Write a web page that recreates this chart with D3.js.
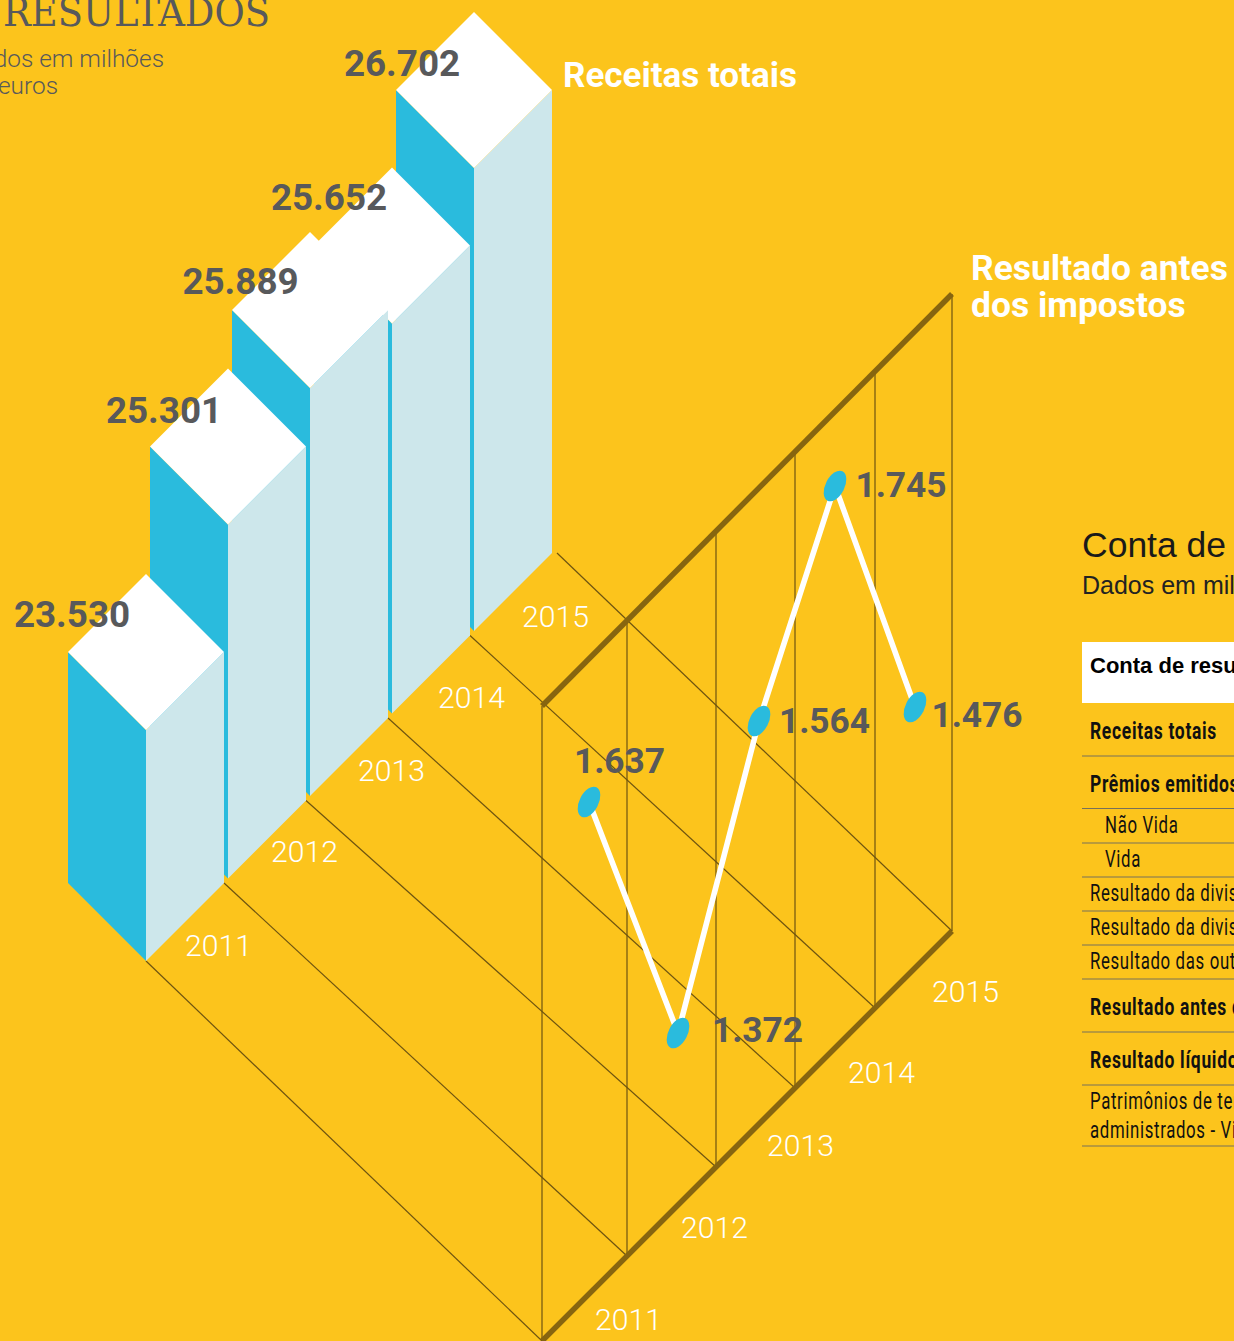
<!DOCTYPE html>
<html>
<head>
<meta charset="utf-8">
<script src="https://cdn.jsdelivr.net/npm/d3@7"></script>
<style>
	html, body { margin: 0; padding: 0; background: #fcc41c; overflow: hidden; }
	svg { display: block; }
</style>
</head>
<body>
<div id="chart"></div>
<script>
// data
const years = [2011, 2012, 2013, 2014, 2015];
const receitas = [23530, 25301, 25889, 25652, 26702];
const resultado = [1637, 1372, 1564, 1745, 1476];
const tableRowLabels = ["Receitas totais", "Prêmios emitidos", "Não Vida", "Vida",
	"Resultado da divisão Não Vida", "Resultado da divisão Vida", "Resultado das outras áreas",
	"Resultado antes de impostos", "Resultado líquido", "Patrimônios de terceiros", "administrados - Vida"];

const width = 1234, height = 1341;
const ptFormat = d3.format(",");
const fmt = v => ptFormat(v).replace(/,/g, ".");

const gray = "#58595b";
const blue = "#2abbdd";
const pale = "#cde7eb";
const rule = "#6e5410";

let svg = d3.select("#chart").append("svg")
	.attr("width", width)
	.attr("height", height);

// bars: position of the front bottom corner per year
const barX = d3.scalePoint().domain(years).range([146, 474]);
const barY = d3.scalePoint().domain(years).range([961, 631]);
const half = 78; // half width of the diamond

// the drawing isn't strictly linear, so the scales go through several stops
const barHeight = d3.scaleLinear()
	.domain(d3.sort(receitas))
	.range([231, 354, 390, 408, 463]);

// panel on the right: column edges along the tilted axes
const colEdge = d3.scaleLinear().domain([0, 1, 2, 3, 4, 5]).range([542, 627, 716, 795, 875, 952]);
const lowerAxis = x => 1341 - (x - 542);
const upperAxis = x => 706 - (x - 542) * 412 / 410;

// diagonal floor lines, drawn first so the bars sit on top
const diagonals = d3.range(6).map(i => {
	const start = i === 0
		? [barX(years[0]), barY(years[0])]
		: [barX(years[i - 1]) + half + (i === 5 ? 5 : 0), barY(years[i - 1]) - half];
	return {start: start, end: [colEdge(i), lowerAxis(colEdge(i))]};
});

svg.append("g").selectAll("line")
	.data(diagonals)
	.enter().append("line")
	.attr("x1", d => d.start[0])
	.attr("y1", d => d.start[1])
	.attr("x2", d => d.end[0])
	.attr("y2", d => d.end[1])
	.attr("stroke", rule)
	.attr("stroke-width", 1.2);

// vertical lines
svg.append("g").selectAll("line")
	.data(d3.range(6))
	.enter().append("line")
	.attr("x1", i => colEdge(i))
	.attr("x2", i => colEdge(i))
	.attr("y1", i => upperAxis(colEdge(i)))
	.attr("y2", i => lowerAxis(colEdge(i)))
	.attr("stroke", rule)
	.attr("stroke-width", 1.2);

// thick axes
[upperAxis, lowerAxis].forEach(axis => {
	svg.append("line")
		.attr("x1", colEdge(0))
		.attr("y1", axis(colEdge(0)))
		.attr("x2", colEdge(5))
		.attr("y2", axis(colEdge(5)))
		.attr("stroke", "#87650f")
		.attr("stroke-width", 5.5);
});

// bars, from the back to the front
const bars = years.map((y, i) => {
	const h = barHeight(receitas[i]);
	return {year: y, value: receitas[i], x: barX(y), bottom: barY(y), top: barY(y) - h};
});

const poly = pts => pts.map(p => p.join(",")).join(" ");

const barGroups = svg.append("g").selectAll("g")
	.data(bars.slice().reverse())
	.enter().append("g");

barGroups.append("polygon")
	.attr("fill", blue)
	.attr("points", d => poly([[d.x - half, d.top - half], [d.x, d.top], [d.x, d.bottom], [d.x - half, d.bottom - half]]));

barGroups.append("polygon")
	.attr("fill", pale)
	.attr("points", d => poly([[d.x, d.top], [d.x + half, d.top - half], [d.x + half, d.bottom - half], [d.x, d.bottom]]));

barGroups.append("polygon")
	.attr("fill", "white")
	.attr("points", d => poly([[d.x, d.top], [d.x - half, d.top - half], [d.x, d.top - 2 * half], [d.x + half, d.top - half]]));

// line chart, the points sit in the columns a bit right of the middle
const pointShift = [4.5, 6.5, 3.5, 0, 1.5];
const lineHeight = d3.scaleLinear()
	.domain(d3.sort(resultado))
	.range([172, 261, 403, 492, 562]);

const linePoints = years.map((y, i) => {
	const x = (colEdge(i) + colEdge(i + 1)) / 2 + pointShift[i];
	return {year: y, value: resultado[i], x: x, y: lowerAxis(x) - lineHeight(resultado[i])};
});

const line = d3.line().x(d => d.x).y(d => d.y);

svg.append("path")
	.attr("d", line(linePoints))
	.attr("fill", "none")
	.attr("stroke", "white")
	.attr("stroke-width", 5.6);

svg.append("g").selectAll("ellipse")
	.data(linePoints)
	.enter().append("ellipse")
	.attr("rx", 9.5)
	.attr("ry", 16.5)
	.attr("fill", blue)
	.attr("transform", d => "translate(" + d.x + "," + d.y + ") rotate(27)");

// value labels
const barLabelDx = [-74, -64, -69.5, -63, -72];
const barLabelDy = [53, 54, 62, 42, 64];

svg.append("g").selectAll("text")
	.data(bars)
	.enter().append("text")
	.attr("x", (d, i) => d.x + barLabelDx[i])
	.attr("y", (d, i) => d.top - 2 * half + barLabelDy[i])
	.attr("text-anchor", "middle")
	.attr("font-family", "Roboto")
	.attr("font-weight", 700)
	.attr("font-size", 36.8)
	.attr("fill", gray)
	.text(d => fmt(d.value));

const lineLabelDx = [30.5, 79.5, 65.5, 66, 62];
const lineLabelDy = [-29, 9, 12, 11, 20];

svg.append("g").selectAll("text")
	.data(linePoints)
	.enter().append("text")
	.attr("x", (d, i) => d.x + lineLabelDx[i])
	.attr("y", (d, i) => d.y + lineLabelDy[i])
	.attr("text-anchor", "middle")
	.attr("font-family", "Roboto")
	.attr("font-weight", 700)
	.attr("font-size", 35.3)
	.attr("fill", gray)
	.text(d => fmt(d.value));

// year labels on both floors
const leftYearDx = [39, 43, 48, 46, 48];
const leftYearDy = [-5, -17, -15, -6, -4];
const rightYearDx = [-32, -35, -28, -27, -20];
const rightYearDy = [74, 71, 68, 75, 71];

function yearLabels(xOf, yOf) {
	svg.append("g").selectAll("text")
		.data(years)
		.enter().append("text")
		.attr("x", xOf)
		.attr("y", yOf)
		.attr("font-family", "Roboto")
		.attr("font-weight", 300)
		.attr("font-size", 30.2)
		.attr("fill", "white")
		.text(d => d);
}
yearLabels((d, i) => barX(d) + leftYearDx[i], (d, i) => barY(d) + leftYearDy[i]);
yearLabels((d, i) => colEdge(i + 1) + rightYearDx[i], (d, i) => lowerAxis(colEdge(i + 1)) + rightYearDy[i]);

// titles
function label(txt, x, y, size, weight, fill, family, anchor) {
	return svg.append("text")
		.attr("x", x)
		.attr("y", y)
		.attr("font-family", family || "Roboto")
		.attr("font-size", size)
		.attr("font-weight", weight)
		.attr("fill", fill)
		.attr("text-anchor", anchor || "start")
		.text(txt);
}

label("RESULTADOS", 3, 26, 39, 400, gray, "DejaVu Serif")
	.attr("textLength", 267)
	.attr("lengthAdjust", "spacingAndGlyphs");
label("Dados em milhões", 164, 67, 24.4, 300, gray, "Roboto", "end");
label("de euros", 58, 94, 24.4, 300, gray, "Roboto", "end");
label("Receitas totais", 563, 86.5, 35, 700, "white");
label("Resultado antes", 971, 279.5, 35.4, 700, "white");
label("dos impostos", 971, 316.5, 35.4, 700, "white");

// table on the right, runs off the page
label("Conta de resultados", 1082, 556.5, 35.5, 400, "#1a1a1a", "Liberation Sans");
label("Dados em milhares de euros", 1082, 593.5, 25, 400, "#222", "Liberation Sans");

svg.append("rect")
	.attr("x", 1082)
	.attr("y", 642)
	.attr("width", width - 1082)
	.attr("height", 61)
	.attr("fill", "white");
label("Conta de resultados", 1090, 673, 22, 700, "black", "Liberation Sans");

const rowBaselines = [739, 792, 833, 867, 901, 935, 969, 1015, 1068, 1109, 1138];
const rowBold = [true, true, false, false, false, false, false, true, true, false, false];
const rowIndent = [0, 0, 15, 15, 0, 0, 0, 0, 0, 0, 0];
const ruleYs = [756, 808.5, 843, 877, 911, 945, 979, 1032, 1085, 1146];

// condensed look: no narrow face installed, so squeeze Roboto horizontally
svg.append("g").selectAll("text")
	.data(tableRowLabels)
	.enter().append("text")
	.attr("transform", (d, i) => "translate(" + (1090 + rowIndent[i]) + "," + rowBaselines[i] + ") scale(" + (rowBold[i] ? 0.76 : 0.73) + ",1)")
	.attr("font-family", "Roboto")
	.attr("font-size", 23)
	.attr("letter-spacing", 0.9)
	.attr("font-weight", (d, i) => rowBold[i] ? 700 : 400)
	.attr("fill", "#111")
	.text(d => d);

svg.append("g").selectAll("line")
	.data(ruleYs)
	.enter().append("line")
	.attr("x1", 1082)
	.attr("x2", width)
	.attr("y1", d => d)
	.attr("y2", d => d)
	.attr("stroke", "#77705a")
	.attr("stroke-width", 1);
</script>
</body>
</html>
